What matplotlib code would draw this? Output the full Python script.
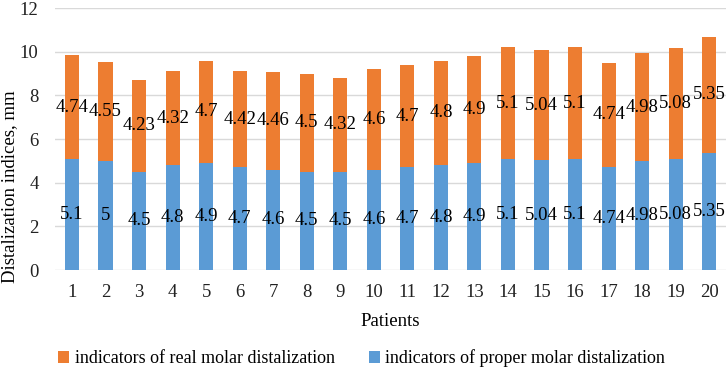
import matplotlib.pyplot as plt
import numpy as np

plt.rcParams['font.family'] = ['Liberation Serif', 'DejaVu Serif']

patients = [str(i) for i in range(1, 21)]
proper = [5.1, 5, 4.5, 4.8, 4.9, 4.7, 4.6, 4.5, 4.5, 4.6,
          4.7, 4.8, 4.9, 5.1, 5.04, 5.1, 4.74, 4.98, 5.08, 5.35]
real = [4.74, 4.55, 4.23, 4.32, 4.7, 4.42, 4.46, 4.5, 4.32, 4.6,
        4.7, 4.8, 4.9, 5.1, 5.04, 5.1, 4.74, 4.98, 5.08, 5.35]

blue = '#5B9BD5'
orange = '#ED7D31'
fs = 13.5

fig = plt.figure(figsize=(7.26, 3.69), dpi=100)
ax = fig.add_axes([0.076, 0.268, 0.924, 0.71])

x = np.arange(len(patients))
b1 = ax.bar(x, proper, width=0.42, color=blue, zorder=3,
            label='indicators of proper molar distalization')
b2 = ax.bar(x, real, width=0.42, bottom=proper, color=orange, zorder=3,
            label='indicators of real molar distalization')

# data labels centred in each segment
ax.bar_label(b1, labels=[f'{v:g}' for v in proper], label_type='center', fontsize=fs, zorder=4)
ax.bar_label(b2, labels=[f'{v:g}' for v in real], label_type='center', fontsize=fs, zorder=4)

ax.set_xlim(-0.5, len(patients) - 0.5)
ax.set_ylim(0, 12)
ax.set_yticks(range(0, 13, 2))
ax.set_xticks(x)
ax.set_xticklabels(patients)
ax.grid(axis='y', color='#D9D9D9', linewidth=1, zorder=0)
for s in ax.spines.values():
    s.set_visible(False)
ax.tick_params(length=0, labelsize=fs, colors='#222222')
ax.tick_params(axis='y', pad=12)
ax.tick_params(axis='x', pad=10)

ax.set_xlabel('Patients', fontsize=fs, labelpad=9)
ax.set_ylabel('Distalization indices, mm', fontsize=fs)
ax.yaxis.set_label_coords(-0.055, 0.32)

handles = [b2, b1]
ax.legend(handles, [h.get_label() for h in handles], loc='center', bbox_to_anchor=(0.457, -0.337),
          ncol=2, frameon=False, fontsize=13, handlelength=0.6, handleheight=0.6,
          handletextpad=0.3, columnspacing=1.9)

fig.savefig('out.png', dpi=100)
